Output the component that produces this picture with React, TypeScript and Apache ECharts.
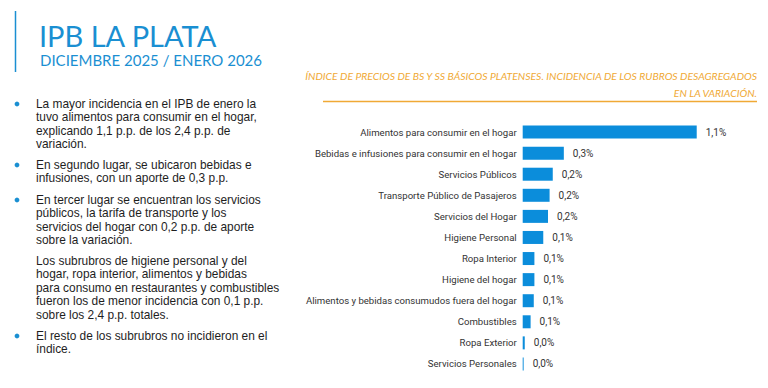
import React, { useEffect, useRef } from "react";
import * as echarts from "echarts";

const categories = [
  "Alimentos para consumir en el hogar",
  "Bebidas e infusiones para consumir en el hogar",
  "Servicios Públicos",
  "Transporte Público de Pasajeros",
  "Servicios del Hogar",
  "Higiene Personal",
  "Ropa Interior",
  "Higiene del hogar",
  "Alimentos y bebidas consumudos fuera del hogar",
  "Combustibles",
  "Ropa Exterior",
  "Servicios Personales",
];
const incidence = [1.1, 0.26, 0.19, 0.17, 0.16, 0.13, 0.074, 0.074, 0.07, 0.05, 0.013, 0.006];

const titleText = "IPB LA PLATA";
const subtitleText = "DICIEMBRE 2025 / ENERO 2026";
const chartTitle = "ÍNDICE DE PRECIOS DE BS Y SS BÁSICOS PLATENSES. INCIDENCIA DE LOS RUBROS DESAGREGADOS\nEN LA VARIACIÓN.";

const paragraphs = [
  { bullet: true, text: "La mayor incidencia en el IPB de enero la\ntuvo alimentos para consumir en el hogar,\nexplicando 1,1 p.p. de los 2,4 p.p. de\nvariación.", y: 104 },
  { bullet: true, text: "En segundo lugar, se ubicaron bebidas e\ninfusiones, con un aporte de 0,3 p.p.", y: 165 },
  { bullet: true, text: "En tercer lugar se encuentran los servicios\npúblicos, la tarifa de transporte y los\nservicios del hogar con 0,2 p.p. de aporte\nsobre la variación.", y: 200 },
  { bullet: false, text: "Los subrubros de higiene personal y del\nhogar, ropa interior, alimentos y bebidas\npara consumo en restaurantes y combustibles\nfueron los de menor incidencia con 0,1 p.p.\nsobre los 2,4 p.p. totales.", y: 261 },
  { bullet: true, text: "El resto de los subrubros no incidieron en el\níndice.", y: 336 },
];

const BLUE = "#1a8fd2";
const BAR = "#0b8ddb";
const ORANGE = "#f0a935";
const LH = 13.4;

export default function App() {
  const ref = useRef<HTMLDivElement>(null);
  useEffect(() => {
    if (!ref.current) return;
    const chart = echarts.init(ref.current, null, { renderer: "svg" });
    const graphics: any[] = [
      { type: "line", shape: { x1: 15.5, y1: 11, x2: 15.5, y2: 72 }, style: { stroke: BLUE, lineWidth: 1.5 } },
      { type: "text", x: 39, y: 35.5, style: { text: titleText, fill: BLUE, font: "29px Lato", verticalAlign: "middle", lineHeight: 26 } },
      { type: "text", x: 40, y: 60, style: { text: subtitleText, fill: BLUE, font: "15px Lato", verticalAlign: "middle", lineHeight: 15 } },
      { type: "text", x: 757, y: 67.5, style: { text: chartTitle, fill: ORANGE, font: "italic 10.4px Lato", align: "right", verticalAlign: "top", lineHeight: 17 } },
      { type: "line", shape: { x1: 323, y1: 101.5, x2: 757, y2: 101.5 }, style: { stroke: ORANGE, lineWidth: 1.5 } },
    ];
    paragraphs.forEach((p) => {
      if (p.bullet) {
        graphics.push({ type: "circle", shape: { cx: 17, cy: p.y, r: 2.4 }, style: { fill: BLUE } });
      }
      p.text.split("\n").forEach((line, i) => {
        graphics.push({
          type: "text",
          x: 36,
          y: p.y + i * LH,
          style: { text: line, fill: "#1e1e1e", font: "11.9px 'Liberation Sans'", verticalAlign: "middle", lineHeight: LH },
        });
      });
    });

    chart.setOption({
      animation: false,
      grid: { left: 522.7, top: 121.5, bottom: 13.5, right: 8, containLabel: false },
      xAxis: { type: "value", min: 0, max: 1.5, show: false },
      yAxis: {
        type: "category",
        data: categories,
        inverse: true,
        axisLine: { show: false },
        axisTick: { show: false },
        axisLabel: { color: "#333", fontSize: 9.6, fontFamily: "Roboto", margin: 6 },
      },
      series: [
        {
          type: "bar",
          data: incidence,
          barWidth: 13,
          itemStyle: { color: BAR },
          label: {
            show: true,
            position: "right",
            distance: 9,
            color: "#333",
            fontSize: 10,
            fontFamily: "Roboto",
            formatter: (p: any) => (Math.round(p.value * 10) / 10).toFixed(1).replace(".", ",") + "%",
          },
        },
      ],
      graphic: graphics,
    });
    return () => chart.dispose();
  }, []);
  return (
    <div
      ref={ref}
      style={{ position: "fixed", left: 0, top: 0, width: 768, height: 388, background: "#fff" }}
    />
  );
}
